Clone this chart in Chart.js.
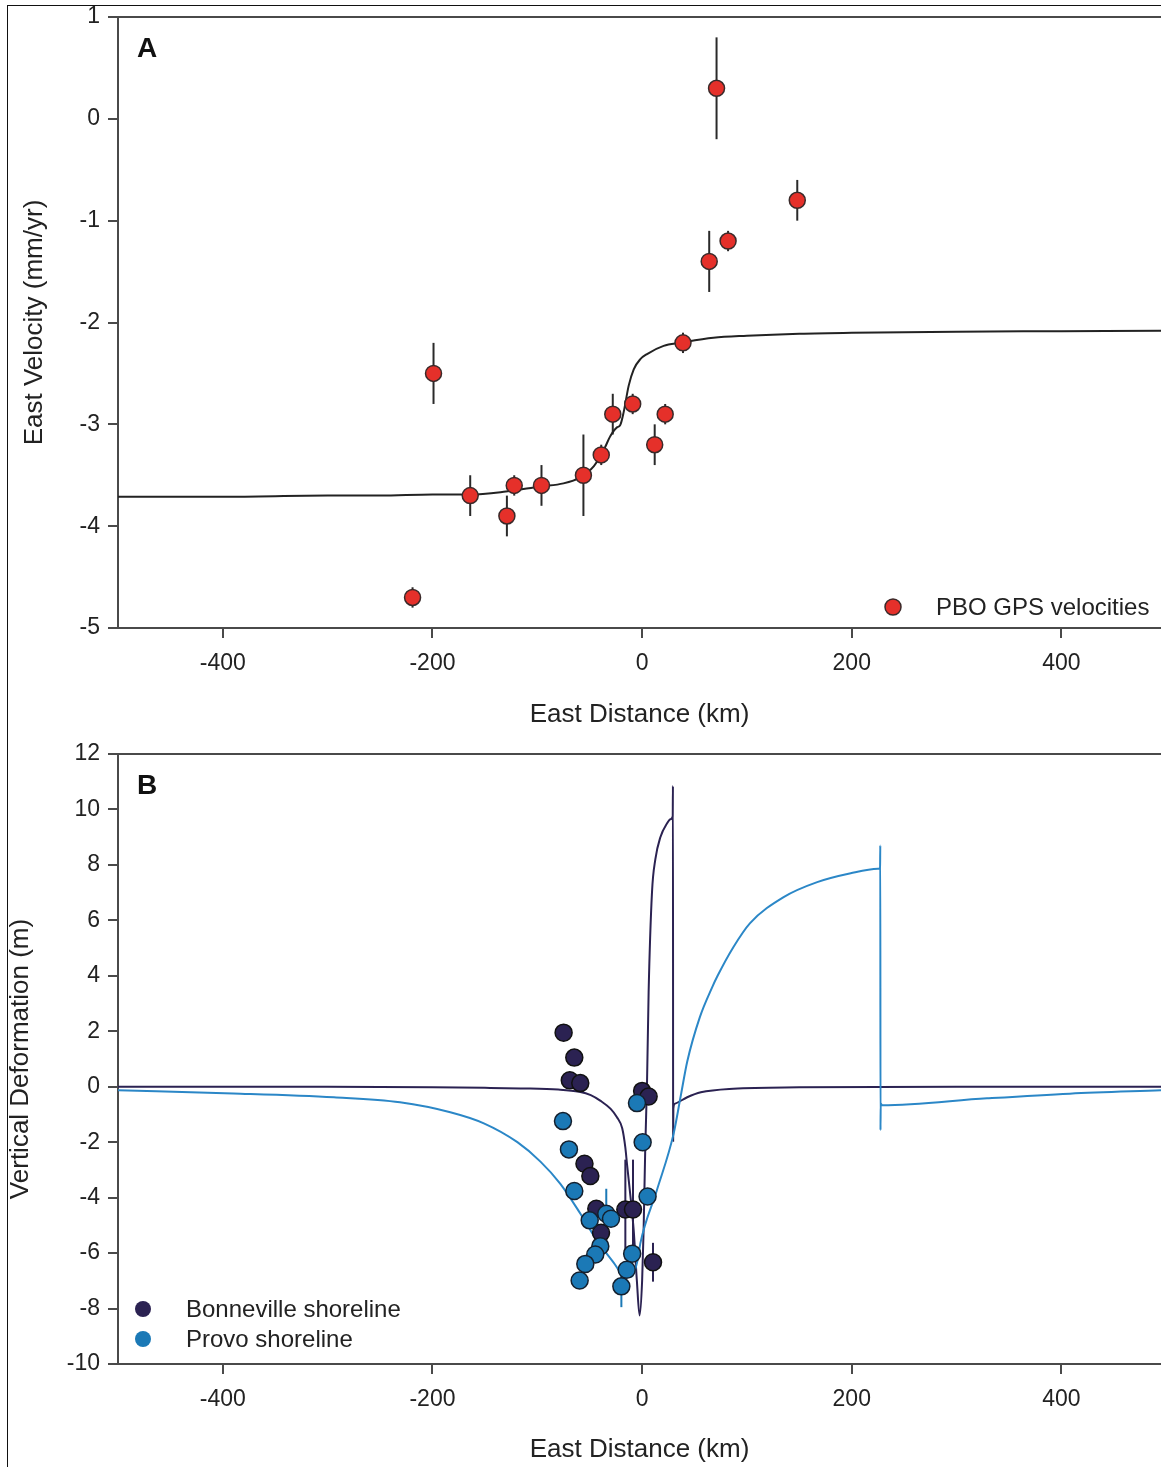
<!DOCTYPE html>
<html>
<head>
<meta charset="utf-8">
<script src="https://cdn.jsdelivr.net/npm/chart.js@4.4.0/dist/chart.umd.min.js"></script>
<style>
html, body { margin: 0; padding: 0; background: #fff; overflow: hidden; }
#page { position: relative; width: 1161px; height: 1467px; }
#frame { position: absolute; left: 7px; top: 5px; width: 1170px; height: 1470px;
         border-left: 1.5px solid #111; border-top: 1.5px solid #111; pointer-events: none; }
#wrapA { position: absolute; left: 0; top: 0; }
#wrapB { position: absolute; left: 0; top: 740px; }
</style>
</head>
<body>
<div id="page">
  <div id="wrapA"><canvas id="chartA" width="1161" height="740"></canvas></div>
  <div id="wrapB"><canvas id="chartB" width="1161" height="727"></canvas></div>
  <div id="frame"></div>
</div>
<script>
'use strict';

// ─── Data ─────────────────────────────────────────────────────────────────────

const X_TICKS = [-400, -200, 0, 200, 400];
const Y_TICKS_A = [-5, -4, -3, -2, -1, 0, 1];
const Y_TICKS_B = [-10, -8, -6, -4, -2, 0, 2, 4, 6, 8, 10, 12];

// Panel A: PBO GPS velocities (east distance km, east velocity mm/yr, 1-sigma)
const GPS_X   = [-219, -199, -164, -129, -122, -96, -56, -39, -28, -9, 12, 22, 39, 64, 71, 82, 148];
const GPS_Y   = [-4.7, -2.5, -3.7, -3.9, -3.6, -3.6, -3.5, -3.3, -2.9, -2.8, -3.2, -2.9, -2.2, -1.4, 0.3, -1.2, -0.8];
const GPS_ERR = [0.1, 0.3, 0.2, 0.2, 0.1, 0.2, 0.4, 0.1, 0.2, 0.1, 0.2, 0.1, 0.1, 0.3, 0.5, 0.1, 0.2];

// Panel A: model curve
const FIT_X = [-500, -400, -300, -250, -200, -164, -130, -97, -75, -59, -46, -37, -30, -24, -21, -17.6, -12.8, -8, -1.7, 4.7, 20.5, 36.5, 68, 100, 150, 200, 300, 400, 495];
const FIT_Y = [-3.71, -3.71, -3.70, -3.70, -3.69, -3.69, -3.66, -3.61, -3.58, -3.52, -3.41, -3.26, -3.11, -3.03, -3.01, -2.88, -2.62, -2.46, -2.36, -2.31, -2.23, -2.2, -2.15, -2.13, -2.11, -2.10, -2.09, -2.085, -2.08];

// Panel B: Bonneville shoreline model
const BON_X = [-500, -300, -200, -150, -116, -80, -60, -49, -40, -30, -24, -19, -16, -14.4, -11, -8, -5, -2.4, 0, 1.4, 3, 4.7, 6.2, 9.4, 12.6, 17.4, 23.8, 27, 29.2, 29.4, 29.6, 29.8, 31, 43, 56, 87, 150, 300, 495];
const BON_Y = [0, 0, -0.02, -0.04, -0.06, -0.1, -0.18, -0.3, -0.5, -0.8, -1.1, -1.5, -2.2, -2.8, -4.0, -5.2, -7.0, -8.25, -7.0, -5.2, -2.2, 0.2, 3.4, 7.0, 8.2, 9.0, 9.5, 9.65, 9.75, 10.85, -1.95, -0.8, -0.62, -0.38, -0.2, -0.07, -0.02, 0, 0];

// Panel B: Provo shoreline model
const PRO_X = [-500, -390, -294, -231, -183, -151, -119, -97, -78, -59, -43, -27, -18, -10, -4, -1.7, 14, 30, 37, 43, 55, 67, 72, 87, 103, 135, 167, 199, 225, 227, 227.2, 227.4, 227.6, 229, 329, 408, 495];
const PRO_Y = [-0.13, -0.24, -0.38, -0.56, -0.92, -1.32, -2.0, -2.7, -3.5, -4.57, -5.55, -6.35, -6.8, -6.85, -6.2, -5.65, -3.74, -1.7, -0.3, 0.9, 2.5, 3.6, 4.0, 5.03, 5.9, 6.84, 7.38, 7.7, 7.86, 7.9, 8.7, -1.57, -0.6, -0.67, -0.42, -0.25, -0.13];

// Panel B: shoreline observations
const BON_PTS_X   = [-74.9, -64.7, -69, -59, 0, 6.2, -55, -49.4, -43.7, -16, -8.7, -39.2, 10.4];
const BON_PTS_Y   = [1.95, 1.05, 0.23, 0.13, -0.15, -0.35, -2.78, -3.22, -4.4, -4.43, -4.43, -5.27, -6.33];
const BON_PTS_ERR = [0, 0, 0, 0, 0, 0, 0, 0, 0, 1.8, 1.8, 0, 0.7];

const PRO_PTS_X   = [-75.5, -69.8, -64.7, -50, -34.2, -29.7, -39.9, -44.7, -54.2, -59.6, -4.9, 0.5, 5.2, -9.5, -14.7, -19.8];
const PRO_PTS_Y   = [-1.24, -2.26, -3.76, -4.82, -4.58, -4.76, -5.75, -6.05, -6.39, -6.99, -0.59, -2.0, -3.96, -6.02, -6.6, -7.2];
const PRO_PTS_ERR = [0, 0, 0, 0, 0.9, 0, 0, 0, 0, 0, 0, 0, 0, 0, 0, 0.75];

// ─── Styles ───────────────────────────────────────────────────────────────────

const FONT = "'Liberation Sans', Arial, sans-serif";
const TEXT = '#222';
const AXIS = '#4a4a4a';
const RED = '#e5302a';
const NAVY = '#2b2252';
const BLUE = '#1b79b6';
const BLUE_LINE = '#2b87c7';

const pts = (xs, ys) => xs.map((x, i) => ({ x, y: ys[i] }));

// Vertical error bars drawn through the chart scales
const errorBars = {
    id: 'errorBars',
    beforeDatasetsDraw(chart, args, opts) {
        const { ctx, scales: { x, y } } = chart;
        ctx.save();
        ctx.lineWidth = 2;
        (opts.sets || []).forEach(s => {
            ctx.strokeStyle = s.color;
            s.xs.forEach((xv, i) => {
                const e = s.err[i];
                if (!e) return;
                const px = x.getPixelForValue(xv);
                ctx.beginPath();
                ctx.moveTo(px, y.getPixelForValue(s.ys[i] - e));
                ctx.lineTo(px, y.getPixelForValue(s.ys[i] + e));
                ctx.stroke();
            });
        });
        ctx.restore();
    }
};

// Top frame line, panel letter and in-plot legend
const panelDeco = {
    id: 'panelDeco',
    afterDraw(chart, args, o) {
        const { ctx, chartArea: a } = chart;
        ctx.save();
        ctx.strokeStyle = AXIS;
        ctx.lineWidth = 2;
        ctx.beginPath();
        ctx.moveTo(a.left, a.top);
        ctx.lineTo(a.right, a.top);
        ctx.stroke();

        ctx.fillStyle = '#111';
        ctx.textBaseline = 'middle';
        ctx.textAlign = 'left';
        ctx.font = 'bold 28px ' + FONT;
        ctx.fillText(o.letter, a.left + 19, a.top + 32);

        ctx.font = '24px ' + FONT;
        o.legend.forEach(it => {
            const cx = a.left + it.dx;
            const cy = a.bottom - it.dy;
            ctx.beginPath();
            ctx.arc(cx, cy, 8, 0, Math.PI * 2);
            ctx.fillStyle = it.color;
            ctx.fill();
            if (it.border) {
                ctx.lineWidth = 1.5;
                ctx.strokeStyle = it.border;
                ctx.stroke();
            }
            ctx.fillStyle = TEXT;
            ctx.fillText(it.label, cx + 43, cy + 1);
        });
        ctx.restore();
    }
};

function makeScales(o) {
    return {
        x: {
            type: 'linear', min: -500, max: 495,
            afterBuildTicks: s => { s.ticks = X_TICKS.map(v => ({ value: v })); },
            afterFit: s => { s.height = o.xHeight; s.paddingLeft = 0; s.paddingRight = 0; },
            grid: { drawOnChartArea: false, drawTicks: true, tickLength: 10, color: AXIS, lineWidth: 2 },
            border: { display: true, color: AXIS, width: 2 },
            ticks: { color: TEXT, font: { size: 23, family: FONT }, padding: 12, maxRotation: 0, callback: v => String(v) },
            title: { display: true, text: 'East Distance (km)', color: TEXT, font: { size: 26, family: FONT }, padding: { top: 0, bottom: o.xTitlePad } }
        },
        y: {
            type: 'linear', min: o.yTicks[0], max: o.yTicks[o.yTicks.length - 1],
            afterBuildTicks: s => { s.ticks = o.yTicks.map(v => ({ value: v })); },
            afterFit: s => { s.width = 118; s.paddingTop = 0; s.paddingBottom = 0; },
            grid: { drawOnChartArea: false, drawTicks: true, tickLength: 10, color: AXIS, lineWidth: 2 },
            border: { display: true, color: AXIS, width: 2 },
            ticks: { color: TEXT, font: { size: 23, family: FONT }, padding: 8, callback: v => String(v) },
            title: { display: true, text: o.yTitle, color: TEXT, font: { size: 26, family: FONT }, padding: { top: o.yTitlePad, bottom: 0 } }
        }
    };
}

// ─── Panel A ──────────────────────────────────────────────────────────────────

new Chart(document.getElementById('chartA'), {
    type: 'scatter',
    data: {
        datasets: [
            {
                label: 'PBO GPS velocities',
                data: pts(GPS_X, GPS_Y),
                pointRadius: 8, pointBackgroundColor: RED, pointBorderColor: '#3a2a2a', pointBorderWidth: 1.5,
            },
            {
                type: 'line', label: 'Model',
                data: pts(FIT_X, FIT_Y),
                borderColor: '#222', borderWidth: 2, pointRadius: 0, fill: false,
                cubicInterpolationMode: 'monotone',
            },
        ],
    },
    options: {
        responsive: false, animation: false,
        layout: { autoPadding: false, padding: { top: 17, left: 0, right: 0, bottom: 0 } },
        scales: makeScales({ xHeight: 112, xTitlePad: 9.4, yTicks: Y_TICKS_A, yTitle: 'East Velocity (mm/yr)', yTitlePad: 19.4 }),
        plugins: {
            legend: { display: false }, tooltip: { enabled: false },
            errorBars: { sets: [{ xs: GPS_X, ys: GPS_Y, err: GPS_ERR, color: '#2a2a2a' }] },
            panelDeco: { letter: 'A', legend: [{ label: 'PBO GPS velocities', color: RED, border: '#3a2a2a', dx: 775, dy: 21 }] },
        },
    },
    plugins: [errorBars, panelDeco],
});

// ─── Panel B ──────────────────────────────────────────────────────────────────

new Chart(document.getElementById('chartB'), {
    type: 'scatter',
    data: {
        datasets: [
            {
                label: 'Provo shoreline',
                data: pts(PRO_PTS_X, PRO_PTS_Y),
                pointRadius: 8.5, pointBackgroundColor: BLUE, pointBorderColor: '#14202e', pointBorderWidth: 1.5,
            },
            {
                label: 'Bonneville shoreline',
                data: pts(BON_PTS_X, BON_PTS_Y),
                pointRadius: 8.5, pointBackgroundColor: NAVY, pointBorderColor: '#111', pointBorderWidth: 1.5,
            },
            {
                type: 'line', label: 'Provo model',
                data: pts(PRO_X, PRO_Y),
                borderColor: BLUE_LINE, borderWidth: 2, pointRadius: 0, fill: false,
                cubicInterpolationMode: 'monotone',
            },
            {
                type: 'line', label: 'Bonneville model',
                data: pts(BON_X, BON_Y),
                borderColor: NAVY, borderWidth: 2, pointRadius: 0, fill: false,
                cubicInterpolationMode: 'monotone',
            },
        ],
    },
    options: {
        responsive: false, animation: false,
        layout: { autoPadding: false, padding: { top: 14, left: 0, right: 0, bottom: 0 } },
        scales: makeScales({ xHeight: 103, xTitlePad: 1.4, yTicks: Y_TICKS_B, yTitle: 'Vertical Deformation (m)', yTitlePad: 5.4 }),
        plugins: {
            legend: { display: false }, tooltip: { enabled: false },
            errorBars: { sets: [
                { xs: BON_PTS_X, ys: BON_PTS_Y, err: BON_PTS_ERR, color: NAVY },
                { xs: PRO_PTS_X, ys: PRO_PTS_Y, err: PRO_PTS_ERR, color: BLUE },
            ] },
            panelDeco: { letter: 'B', legend: [
                { label: 'Bonneville shoreline', color: NAVY, dx: 25, dy: 55 },
                { label: 'Provo shoreline', color: BLUE, dx: 25, dy: 25 },
            ] },
        },
    },
    plugins: [errorBars, panelDeco],
});
</script>
</body>
</html>
